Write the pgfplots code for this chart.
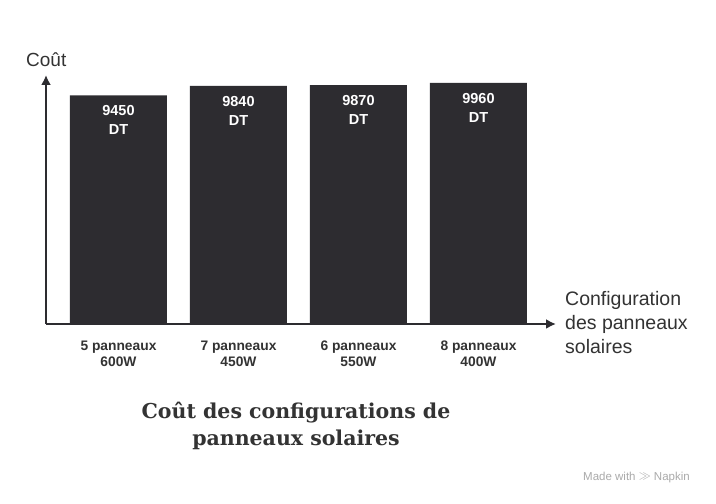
\documentclass[border=0pt]{standalone}
\usepackage{pgfplots}
\pgfplotsset{compat=1.18}
\usepackage{fontspec}
\setmainfont{Liberation Sans}
\newfontfamily\titlefont{DejaVu Serif}
\usetikzlibrary{arrows.meta}
\definecolor{barc}{HTML}{2D2C30}
\definecolor{txt}{HTML}{333333}
\definecolor{wm}{HTML}{AAAAAA}
\begin{document}
\begin{tikzpicture}
\path[use as bounding box, fill=white] (0bp,0bp) rectangle (716bp,504bp);
\begin{axis}[
  at={(46bp,180bp)}, anchor=south west,
  scale only axis, width=510bp, height=249bp,
  xmin=-0.604, xmax=3.646, ymin=0, ymax=10290,
  axis lines=left,
  axis line style={line width=2bp, draw=barc, -{Latex[length=10bp,width=10bp]}},
  ybar, bar width=97bp,
  xtick={0,1,2,3},
  xticklabels={{5 panneaux\\600W},{7 panneaux\\450W},{6 panneaux\\550W},{8 panneaux\\400W}},
  ytick=\empty,
  major tick length=0pt,
  x tick label style={font=\fontsize{13.8bp}{16bp}\selectfont\bfseries, align=center, text=txt, anchor=north, inner sep=0pt, yshift=-16.5bp},
  point meta=explicit symbolic,
  nodes near coords={\pgfplotspointmeta\\DT},
  every node near coord/.append style={font=\fontsize{14.5bp}{19bp}\selectfont\bfseries, text=white, align=center, anchor=north, inner sep=0pt, yshift=-10bp},
]
\addplot[fill=barc, draw=none] coordinates {(0,9450) [9450] (1,9840) [9840] (2,9870) [9870] (3,9960) [9960]};
\end{axis}
\node[anchor=base west, inner sep=0pt, text=txt, font=\fontsize{19bp}{20bp}\selectfont] at (26bp,437bp) {Coût};
\node[anchor=north west, inner sep=0pt, text=txt, align=left, font=\fontsize{19.5bp}{24bp}\selectfont] at (565bp,213bp) {Configuration\\des panneaux\\solaires};
\node[anchor=north, inner sep=0pt, text=txt, align=center, font=\fontsize{20.5bp}{27bp}\selectfont\titlefont\bfseries] at (296bp,102bp) {Coût des configurations de\\panneaux solaires};
\node[anchor=base west, inner sep=0pt, text=wm, font=\fontsize{11.5bp}{12bp}\selectfont] at (583bp,24bp) {Made with \raisebox{0.5bp}{$\gg$} Napkin};
\end{tikzpicture}
\end{document}
